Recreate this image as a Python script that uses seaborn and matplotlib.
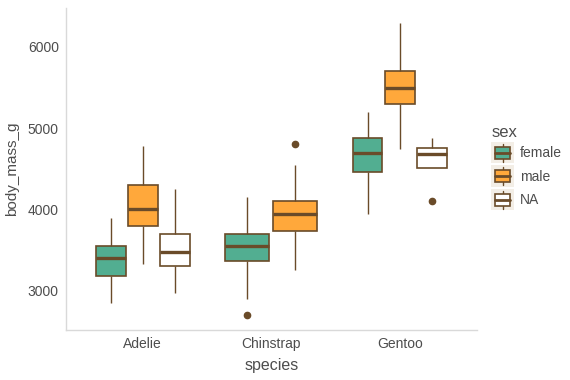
import numpy as np
import pandas as pd
import matplotlib
matplotlib.use("Agg")
import matplotlib.pyplot as plt
import seaborn as sns
from matplotlib.patches import Patch, Rectangle
from matplotlib.lines import Line2D
from matplotlib.legend_handler import HandlerBase

# 数据：按物种和性别读取的体重值 (g)
species_order = ["Adelie", "Chinstrap", "Gentoo"]
sex_order = ["female", "male", "NA"]

adelie_female = [2850, 3175, 3400, 3550, 3900]
adelie_male = [3325, 3800, 4000, 4300, 4775]
adelie_na = [2975, 3300, 3475, 3700, 4250]
chinstrap_female = [2700, 2900, 3362.5, 3362.5, 3550, 3693.75, 3693.75, 4150, 4150]
chinstrap_male = [3250, 3250, 3731.25, 3731.25, 3950, 4100, 4100, 4550, 4800]
gentoo_female = [3950, 4462.5, 4700, 4875, 5200]
gentoo_male = [4750, 5300, 5500, 5700, 6300]
gentoo_na = [4100, 4650, 4725, 4875]

groups = [
    ("Adelie", "female", adelie_female),
    ("Adelie", "male", adelie_male),
    ("Adelie", "NA", adelie_na),
    ("Chinstrap", "female", chinstrap_female),
    ("Chinstrap", "male", chinstrap_male),
    ("Gentoo", "female", gentoo_female),
    ("Gentoo", "male", gentoo_male),
    ("Gentoo", "NA", gentoo_na),
]
rows = [(sp, sx, v) for sp, sx, vals in groups for v in vals]
df = pd.DataFrame(rows, columns=["species", "sex", "body_mass_g"])

palette = {"female": "#52AE91", "male": "#FFA83B", "NA": "#FFFFFF"}
EDGE = "#6A4B29"
KEY_BG = "#F3EEE6"
TEXT = "#4D4D4D"

sns.set_style("white")
plt.rcParams["font.family"] = ["Liberation Sans", "DejaVu Sans"]

fig = plt.figure(figsize=(5.7, 3.8), dpi=100)
ax = fig.add_axes([0.1153, 0.1324, 0.8363 - 0.1153, 0.979 - 0.1324])

common = dict(
    x="species", y="body_mass_g", hue="sex", order=species_order,
    palette=palette, saturation=1, width=0.75, linecolor=EDGE, linewidth=1.2,
    showcaps=False, legend=False, ax=ax,
    whiskerprops=dict(color=EDGE, linewidth=1.0),
    medianprops=dict(color=EDGE, linewidth=2.4),
    flierprops=dict(marker="o", markerfacecolor=EDGE, markeredgecolor=EDGE,
                    markersize=4.5),
)

# Chinstrap 没有 NA，单独画以得到两格宽度
sns.boxplot(data=df[df.species != "Chinstrap"], hue_order=sex_order, gap=0.07, **common)
sns.boxplot(data=df[df.species == "Chinstrap"], hue_order=["female", "male"], gap=0.09, **common)

ax.set_xlim(-0.6, 2.6)
ax.set_ylim(2520, 6480)
ax.set_yticks([3000, 4000, 5000, 6000])
ax.set_xticks(range(3))
ax.set_xticklabels(species_order)

for side in ["top", "right"]:
    ax.spines[side].set_visible(False)
for side in ["left", "bottom"]:
    ax.spines[side].set_color("#D9D9D9")
    ax.spines[side].set_linewidth(1.0)
ax.tick_params(axis="both", which="major", length=3, width=0.8, color="#CCCCCC",
               labelsize=10, labelcolor=TEXT, pad=2)
ax.set_xlabel("species", fontsize=11.5, color=TEXT, labelpad=5)
ax.set_ylabel("body_mass_g", fontsize=11, color=TEXT, labelpad=6)


class BoxKey(HandlerBase):
    def create_artists(self, legend, orig_handle, xdescent, ydescent,
                       width, height, fontsize, trans):
        x = -xdescent
        y = -ydescent
        bg = Rectangle((x, y), width, height, facecolor=KEY_BG,
                       edgecolor="none", transform=trans)
        bw, bh = width * 0.68, height * 0.56
        x0, y0 = x + (width - bw) / 2, y + (height - bh) / 2
        cx = x + width / 2
        w_lo = Line2D([cx, cx], [y + height * 0.08, y0], color=EDGE, lw=1.0, transform=trans)
        w_hi = Line2D([cx, cx], [y0 + bh, y + height * 0.92], color=EDGE, lw=1.0, transform=trans)
        box = Rectangle((x0, y0), bw, bh, facecolor=orig_handle.get_facecolor(),
                        edgecolor=EDGE, lw=1.2, transform=trans)
        med = Line2D([x0, x0 + bw], [y0 + bh / 2] * 2, color=EDGE, lw=2.0, transform=trans)
        return [bg, w_lo, w_hi, box, med]


handles = [Patch(facecolor=palette[s]) for s in sex_order]
leg = fig.legend(handles, sex_order, title="sex", loc="upper left",
                 bbox_to_anchor=(0.85, 0.69), frameon=False, fontsize=10,
                 title_fontsize=12, handlelength=1.6, handleheight=2.0,
                 labelspacing=0.15, handletextpad=0.45, borderpad=0,
                 alignment="left", handler_map={Patch: BoxKey()})
leg.get_title().set_color(TEXT)
for t in leg.get_texts():
    t.set_color(TEXT)

fig.savefig("out.png", dpi=100, facecolor="white")
